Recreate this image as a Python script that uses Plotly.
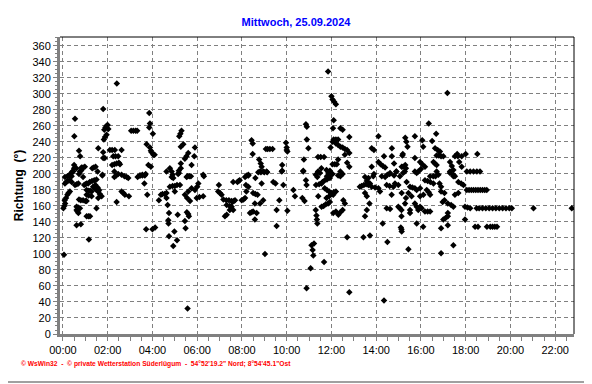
import plotly.graph_objects as go

title_text = "Mittwoch, 25.09.2024"
y_title = "Richtung  (°)"
footer_text = "© WsWin32  -  © private Wetterstation Süderlügum  -  54°52'19.2\" Nord; 8°54'45.1\"Ost"

tick_hours = [0, 2, 4, 6, 8, 10, 12, 14, 16, 18, 20, 22]
tick_labels = ["00:00", "02:00", "04:00", "06:00", "08:00", "10:00",
               "12:00", "14:00", "16:00", "18:00", "20:00", "22:00"]
y_ticks = list(range(0, 361, 20))

# (hour of day, wind direction in degrees)
pts_00_02 = [(0.05,99),(0.02,157),(0.06,160),(0.1,163),(0.08,167),(0.14,170),(0.2,174),(0.25,176),(0.31,178),
    (0.09,188),(0.15,190),(0.22,191),(0.3,192),(0.39,190),(0.09,196),(0.3,199),(0.38,201),(0.46,203),(0.2,197),
    (0.3,198),(0.39,197),(0.42,203),(0.5,207),(0.5,211),(0.54,269),(0.51,247),(0.72,229),(0.77,222),(0.6,207),
    (0.72,200),(0.8,204),(0.9,196),(0.76,203),(0.83,205),(0.54,186),(0.62,187),(0.69,188),(0.61,159),(0.68,158),
    (0.76,157),(0.61,155),(0.65,153),(0.69,151),(0.61,136),(0.8,137),(0.72,168),(0.8,167),(0.9,167),(1.0,166),
    (1.06,166),(0.83,208),(0.9,208),(0.98,209),(0.95,186),(1.0,187),(1.06,188),(1.06,180),(1.15,179),(1.22,179),
    (1.28,178),(1.06,174),(1.15,173),(1.28,172),(1.13,188),(1.2,190),(1.3,191),(1.4,192),(1.5,193),(1.35,184),
    (1.42,182),(1.5,180),(1.58,178),(1.65,175),(1.73,172),(1.45,186),(1.55,183),(1.62,180),(1.5,157),(1.06,147),
    (1.14,147),(1.21,147),(1.16,118),(1.58,170),(1.31,207),(1.38,208),(1.46,209),(1.55,203),(1.58,232),(1.8,227),
    (1.8,220),(1.87,220),(1.76,198),(1.77,199)]
pts_02_04 = [(1.8,281),(1.85,255),(1.9,258),(1.95,260),(2.0,261),(2.03,256),(1.83,243),(1.88,246),(1.95,249),
    (2.41,313),(2.1,230),(2.2,230),(2.32,230),(2.62,230),(2.25,222),(2.35,222),(2.47,222),(2.2,211),(2.3,212),
    (2.4,213),(2.5,214),(2.55,212),(2.3,196),(2.38,198),(2.47,200),(2.3,203),(2.62,199),(2.75,197),(2.85,196),
    (2.92,195),(2.4,165),(2.62,178),(2.7,176),(2.77,174),(2.95,172),(3.05,254),(3.15,254),(3.25,254),(3.32,254),
    (3.34,196),(3.45,198),(3.55,199),(3.7,200),(3.64,188),(3.77,174),(3.86,276),(3.89,263),(3.86,258),(3.74,237),
    (3.89,233),(3.93,229),(3.96,227),(3.82,211),(3.93,209),(3.44,198),(3.55,198),(3.66,198),(3.72,131),(4.0,131),
    (4.12,133)]
pts_04_06 = [(4.02,250),(4.04,224),(4.1,224),(4.63,203),(4.78,207),(4.86,196),(5.15,200),(5.18,204),(5.27,207),
    (5.27,213),(5.45,219),(5.52,222),(5.6,226),(5.75,211),(5.87,222),(5.9,233),(5.27,234),(5.38,237),(5.2,247),
    (5.25,250),(5.3,254),(5.57,197),(5.65,197),(5.72,197),(4.38,174),(4.45,175),(4.55,175),(4.63,176),(4.29,167),
    (4.63,170),(4.68,161),(4.74,151),(4.71,142),(4.72,138),(4.86,203),(4.9,199),(4.93,195),(4.78,184),(4.9,185),
    (5.0,185),(5.1,186),(5.23,186),(5.0,178),(5.18,201),(5.13,149),(4.74,122),(4.93,110),(4.98,128),(5.1,117),
    (5.57,32),(5.54,152),(5.6,150),(5.63,147),(5.45,141),(5.48,132),(5.53,196),(5.45,174),(5.55,170),(5.68,166),
    (5.9,180),(6.0,184),(6.05,188),(5.75,182),(5.6,178)]
pts_06_08 = [(6.27,199),(6.3,197),(5.98,170),(6.1,171),(6.27,172),(6.97,186),(6.94,178),(7.02,176),(7.09,174),
    (7.17,168),(7.3,167),(7.42,167),(7.54,166),(7.32,161),(7.45,160),(7.54,159),(7.24,147),(7.32,149),(7.61,190),
    (7.46,155),(7.58,165),(7.64,166),(7.69,167),(7.61,155),(7.8,190),(7.85,191),(7.9,192)]
pts_08_10 = [(7.99,167),(8.07,168),(8.14,170),(8.18,186),(8.29,184),(8.14,196),(8.22,198),(8.29,199),(8.2,178),
    (8.36,151),(8.43,152),(8.5,153),(8.58,143),(8.66,151),(8.5,176),(8.6,175),(8.7,174),(8.81,163),(8.58,163),
    (8.88,188),(8.95,167),(8.81,203),(8.95,203),(9.1,203),(9.03,100),(9.4,190),(9.5,188),(9.55,155),(9.55,135),
    (9.67,167),(9.78,203),(9.85,186),(8.43,242),(8.48,238),(8.48,225),(8.77,218),(8.84,213),(8.88,209),(8.73,202),
    (8.85,202),(9.0,202),(9.13,202),(8.29,198),(8.6,195),(9.07,231),(9.15,231),(9.25,231),(9.37,231),(9.8,211),
    (9.8,204),(9.97,239),(10.0,233),(10.0,230),(10.03,228)]
pts_10_12 = [(10.03,154),(10.3,180),(10.37,172),(10.7,170),(10.8,166),(10.74,203),(10.86,192),(10.89,186),
    (10.86,262),(10.9,259),(10.9,243),(10.97,232),(10.77,218),(10.74,204),(11.11,111),(11.22,113),(11.16,105),
    (11.19,98),(11.07,82),(10.89,57),(11.67,90),(11.3,155),(11.33,148),(11.35,143),(11.37,138),(11.41,172),
    (11.37,196),(11.49,201),(11.31,186),(11.45,187),(11.56,188),(11.6,190),(11.7,192),(11.8,193),(11.93,195),
    (11.7,182),(11.8,180),(11.9,178),(12.0,176),(12.08,174),(11.56,159),(11.65,160),(11.75,162),(11.85,163),
    (11.93,165),(11.78,170),(11.9,172),(12.0,175),(12.1,177),(12.2,178),(12.08,151),(12.2,153),(12.31,149),
    (12.4,152),(12.5,155),(12.4,203),(12.5,200),(11.93,203),(11.78,205),(12.53,167),(12.6,163),(11.3,199),
    (11.4,203),(11.55,207),(11.4,221),(11.52,221),(11.67,221),(11.86,201),(11.93,204),(12.05,212),(12.15,212),
    (12.24,212),(12.05,240),(11.8,197),(11.9,197),(12.05,200),(12.3,198),(12.4,197),(11.85,328)]
pts_12_14 = [(12.0,297),(12.05,293),(12.12,290),(12.2,287),(12.1,267),(12.07,257),(12.4,257),(12.5,255),(12.8,246),
    (12.1,243),(12.2,243),(12.3,243),(11.96,233),(12.2,238),(12.3,236),(12.4,234),(12.5,233),(12.6,231),(12.7,230),
    (12.3,218),(12.6,224),(12.8,226),(12.7,214),(12.8,209),(12.7,121),(12.8,52),(13.27,184),(13.35,185),(13.45,186),
    (13.55,187),(13.65,188),(13.72,188),(13.5,196),(13.58,191),(13.65,186),(13.8,184),(13.95,183),(14.1,182),
    (13.87,197),(13.5,176),(13.58,172),(13.7,163),(13.58,155),(13.5,147),(13.43,121),(13.72,123),(14.17,178),
    (14.1,247),(13.8,232),(13.9,230),(13.8,209),(13.9,200),(13.65,195)]
pts_14_16 = [(14.1,215),(14.2,212),(14.3,210),(14.4,208),(14.35,222),(14.25,197),(14.7,232),(14.7,222),(14.8,213),
    (14.9,203),(15.06,197),(15.2,209),(15.28,203),(15.17,223),(15.3,245),(15.35,240),(15.4,234),(14.8,198),
    (14.6,200),(14.29,138),(14.5,115),(14.35,42),(14.47,157),(14.62,156),(14.4,196),(14.5,199),(14.62,201),
    (14.47,186),(14.6,185),(14.77,184),(14.84,188),(14.99,186),(14.69,174),(14.9,203),(15.2,201),(14.99,159),
    (15.06,157),(15.13,155),(15.13,147),(15.1,133),(15.13,131),(15.44,106),(15.33,170),(15.44,176),(15.36,190),
    (15.19,225),(15.73,220),(15.14,209),(15.3,211),(15.33,207),(15.73,247),(15.14,128),(15.81,180),(15.96,182),
    (15.51,184),(15.62,183),(15.73,182),(15.96,172),(16.11,174),(15.58,172),(15.73,163),(15.81,159),(15.88,155),
    (16.03,157),(15.51,155),(15.51,151),(15.81,138),(15.29,163),(15.14,176),(15.96,159),(15.81,201),(15.73,203),
    (15.88,203),(16.0,206),(15.96,215),(16.06,212),(16.18,209)]
pts_16_18 = [(16.06,242),(16.1,234),(16.35,263),(16.68,250),(16.5,241),(16.63,232),(16.75,230),(16.85,228),
    (16.7,223),(16.8,223),(16.9,222),(17.0,222),(16.56,215),(16.62,213),(16.7,211),(16.41,197),(16.55,197),
    (16.65,197),(16.78,199),(17.3,215),(17.38,210),(17.45,205),(17.3,201),(17.45,197),(17.52,222),(17.65,222),
    (17.82,222),(17.71,215),(17.82,209),(17.62,225),(17.52,197),(17.18,301),(16.18,153),(16.3,153),(16.41,153),
    (16.1,134),(16.18,192),(16.3,191),(16.42,190),(16.56,188),(16.26,180),(16.35,177),(16.41,174),(16.7,203),
    (16.83,188),(16.9,184),(16.9,178),(17.05,176),(16.97,165),(17.05,167),(17.2,163),(17.35,161),(17.45,159),
    (17.52,174),(17.67,176),(17.0,143),(17.1,145),(17.2,147),(17.2,151),(17.2,136),(16.9,132),(16.9,101),
    (17.45,111),(17.3,203),(17.45,199),(17.67,190),(17.8,188),(17.9,186),(17.97,143)]
pts_18_24 = [(18.0,225),(18.52,225),(18.05,203),(18.2,203),(18.35,203),(18.5,203),(18.64,203),(18.05,180),
    (18.15,180),(18.25,180),(18.35,180),(18.45,180),(18.55,180),(18.65,180),(18.75,180),(18.85,180),(18.94,180),
    (17.97,159),(18.08,158),(18.2,157),(18.49,157),(18.6,157),(18.75,157),(18.9,157),(19.05,157),(19.2,157),
    (19.35,157),(19.5,157),(19.65,157),(19.8,157),(19.95,157),(20.06,157),(21.03,157),(22.74,157),(18.42,134),
    (18.55,134),(18.95,134),(19.1,134),(19.2,134),(19.3,134),(19.4,134)]

all_pts = (pts_00_02 + pts_02_04 + pts_04_06 + pts_06_08 + pts_08_10 + pts_10_12
           + pts_12_14 + pts_14_16 + pts_16_18 + pts_18_24)
hours = [p[0] for p in all_pts]
directions = [p[1] for p in all_pts]

# the page body has an 8px default margin; lay the figure out so the screen
# positions match the reference
OFF = 8
W, H = 592, 384
PL, PR, PT, PB = 60, 574, 37, 334          # plot area in screen pixels
ml, mr, mt, mb = PL - OFF, W - (PR - OFF), PT - OFF, H - (PB - OFF)
pw, ph = PR - PL, PB - PT


def px(sx):
    return (sx - PL) / pw


def py(sy):
    return (PB - sy) / ph


fig = go.Figure()
fig.add_trace(go.Scatter(
    x=hours, y=directions, mode="markers",
    marker=dict(symbol="diamond", size=5, color="black", line=dict(width=0)),
    showlegend=False, hoverinfo="skip"))

grid = dict(showgrid=True, gridcolor="#808080", gridwidth=1, griddash="4px,3px")
font_ax = dict(family="Liberation Sans, Arial", size=11, color="black")
fig.update_xaxes(
    range=[-0.13, 22.84], tickmode="array", tickvals=tick_hours, ticktext=tick_labels,
    ticks="outside", ticklen=4, tickcolor="#808080", tickwidth=1,
    showline=True, linecolor="#808080", linewidth=3, zeroline=False, automargin=False,
    minor=dict(dtick=0.5, tick0=0, ticks="outside", ticklen=4, tickcolor="#808080", showgrid=False),
    tickfont=font_ax, **grid)
fig.update_yaxes(
    range=[0, 371], tickmode="array", tickvals=y_ticks,
    ticks="outside", ticklen=4, tickcolor="#808080", tickwidth=1,
    showline=True, linecolor="#808080", linewidth=3, zeroline=False, automargin=False,
    minor=dict(dtick=5, tick0=0, ticks="outside", ticklen=2, tickcolor="#808080", showgrid=False),
    tickfont=font_ax,
    title=dict(text=y_title, font=dict(family="Liberation Sans, Arial", size=12, color="black", weight="bold"),
               standoff=7),
    **grid)

fig.update_layout(
    width=W, height=H,
    margin=dict(l=ml, r=mr, t=mt, b=mb),
    paper_bgcolor="white", plot_bgcolor="white",
    title=dict(text=title_text, x=(296 - OFF) / W, xanchor="center", y=1 - (22 - OFF) / H, yanchor="middle",
               font=dict(family="Liberation Sans, Arial", size=11, color="#0000FF", weight="bold")),
    shapes=[
        dict(type="line", xref="paper", yref="paper", x0=0, x1=1, y0=1, y1=1,
             line=dict(color="black", width=1)),
        dict(type="line", xref="paper", yref="paper", x0=1, x1=1, y0=0, y1=1,
             line=dict(color="black", width=1)),
        dict(type="line", xref="paper", yref="paper", x0=px(590), x1=px(590), y0=py(382), y1=py(0),
             line=dict(color="#A0A0A0", width=2)),
        dict(type="line", xref="paper", yref="paper", x0=px(0), x1=px(591), y0=py(382), y1=py(382),
             line=dict(color="#A0A0A0", width=2)),
    ],
    annotations=[
        dict(text=footer_text, xref="paper", yref="paper", x=px(19), y=py(364),
             xanchor="left", yanchor="middle", showarrow=False,
             font=dict(family="Liberation Sans, Arial", size=6.7, color="#FF0000", weight="bold")),
    ],
)

fig.write_html("out.html")
